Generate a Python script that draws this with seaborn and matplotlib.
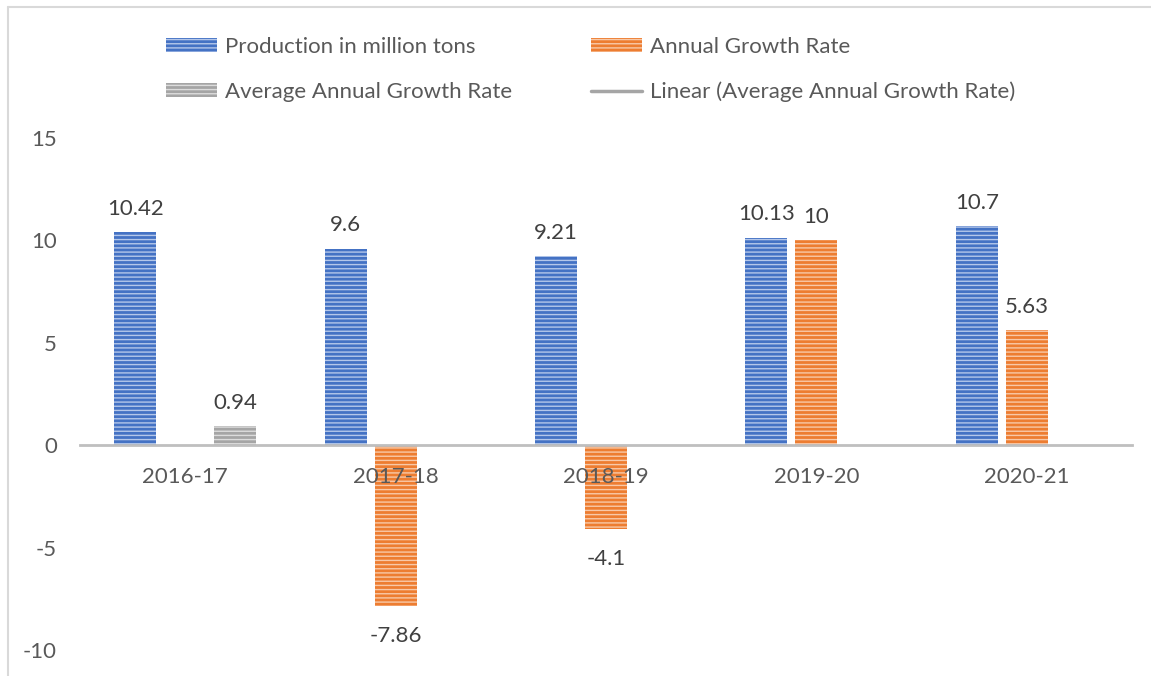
import numpy as np
import pandas as pd
import seaborn as sns
import matplotlib.pyplot as plt
from matplotlib.patches import Patch
from matplotlib.lines import Line2D

years = ['2016-17', '2017-18', '2018-19', '2019-20', '2020-21']
production = [10.42, 9.6, 9.21, 10.13, 10.7]
annual_growth = [np.nan, -7.86, -4.1, 10, 5.63]
avg_growth = [0.94, np.nan, np.nan, np.nan, np.nan]

series = ['Production in million tons', 'Annual Growth Rate', 'Average Annual Growth Rate']
colors = ['#4472C4', '#ED7D31', '#A5A5A5']
stripes = ['#B4C7EA', '#F8C9A8', '#DCDCDC']

df = pd.DataFrame({'year': years * 3,
                   'value': production + annual_growth + avg_growth,
                   'series': [s for s in series for _ in years]})

sns.set_style('white')
plt.rcParams['font.family'] = ['Lato', 'DejaVu Sans']
plt.rcParams['axes.unicode_minus'] = False
plt.rcParams['hatch.linewidth'] = 1.0
fs = 16

fig = plt.figure(figsize=(11.51, 6.76), dpi=100)
ax = fig.add_axes([0.0695, 0.0385, 0.914, 0.7575])

sns.barplot(data=df, x='year', y='value', hue='series', hue_order=series,
            palette=colors, saturation=1, width=0.713, gap=0.16,
            legend=False, ax=ax, zorder=1)

# horizontal stripes like the excel fill, labels above / below each bar
for cont, st in zip(ax.containers, stripes):
    for p in cont:
        p.set_hatch('----')
        p.set_edgecolor(st)
        p.set_linewidth(0)
    vals = cont.datavalues
    pos = ['{:g}'.format(v) if v >= 0 else '' for v in vals]
    neg = ['{:g}'.format(v) if v < 0 else '' for v in vals]
    ax.bar_label(cont, labels=pos, padding=9.5, fontsize=fs, color='#404040')
    ax.bar_label(cont, labels=neg, padding=14, fontsize=fs, color='#404040')

ax.set_ylim(-10, 15)
ax.set_yticks([-10, -5, 0, 5, 10, 15])
ax.set_xlabel('')
ax.set_ylabel('')
for s in ['top', 'right', 'left']:
    ax.spines[s].set_visible(False)
ax.spines['bottom'].set_position(('data', 0))
ax.spines['bottom'].set_color('#BFBFBF')
ax.spines['bottom'].set_linewidth(2)
ax.xaxis.set_zorder(5)
ax.tick_params(axis='x', length=0, pad=16, labelsize=fs, labelcolor='#595959')
ax.tick_params(axis='y', length=0, pad=16.5, labelsize=fs, labelcolor='#595959')

handles = [Patch(facecolor=colors[0], edgecolor=stripes[0], hatch='----', linewidth=0),
           Patch(facecolor=colors[2], edgecolor=stripes[2], hatch='----', linewidth=0),
           Patch(facecolor=colors[1], edgecolor=stripes[1], hatch='----', linewidth=0),
           Line2D([], [], color='#A5A5A5', lw=2.5)]
labels = [series[0], series[2], series[1], 'Linear (Average Annual Growth Rate)']
fig.legend(handles, labels, ncol=2, loc='upper left', bbox_to_anchor=(0.127, 0.975),
           frameon=False, fontsize=fs, labelcolor='#595959', handlelength=2.3,
           handleheight=0.55, handletextpad=0.35, labelspacing=1.12, columnspacing=3.55)

# chart border
fig.add_artist(Line2D([8 / 1151, 1], [1 - 7 / 676] * 2, color='#D9D9D9', lw=1.5))
fig.add_artist(Line2D([8 / 1151] * 2, [0, 1 - 7 / 676], color='#D9D9D9', lw=1.5))

fig.savefig('out.png', dpi=100)
